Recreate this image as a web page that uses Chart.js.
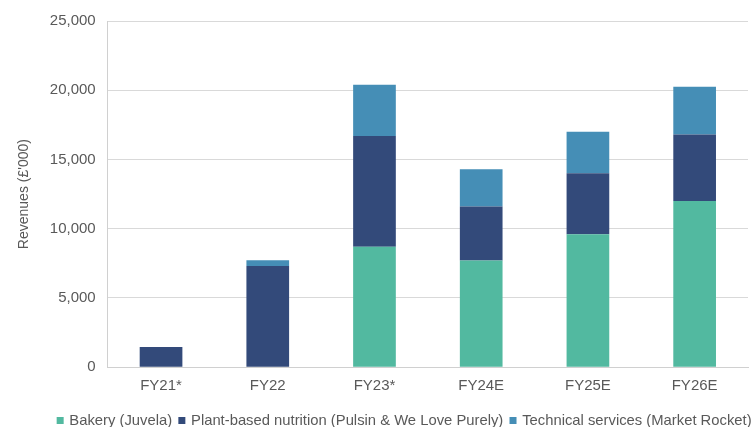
<!DOCTYPE html>
<html>
<head>
<meta charset="utf-8">
<script src="https://cdn.jsdelivr.net/npm/chart.js@4"></script>
<style>
  body { margin: 0; background: #fff; }
  #wrap { width: 755px; height: 427px; }
</style>
</head>
<body>
<div id="wrap"><canvas id="revchart"></canvas></div>
<script>
const years = ["FY21*", "FY22", "FY23*", "FY24E", "FY25E", "FY26E"];
const bakery = [0, 0, 8700, 7700, 9600, 12000];
const plantBased = [1450, 7300, 8000, 3900, 4400, 4800];
const techServices = [0, 430, 3700, 2700, 3000, 3450];
const yTicks = [0, 5000, 10000, 15000, 20000, 25000];

Chart.defaults.font.family = "'Liberation Sans', Arial, sans-serif";
Chart.defaults.color = "#595959";

// the legend in the original sits a little right of centre
const legendShift = {
    id: "legendShift",
    afterLayout(chart) {
        chart.legend.left += 23;
        chart.legend.right += 23;
    },
};

let ctx = document.getElementById("revchart").getContext("2d");
var revChart = new Chart(ctx, {
    type: "bar",
    data: {
        labels: years,
        datasets: [
            {
                label: "Bakery (Juvela)",
                data: bakery,
                backgroundColor: "#52b9a0",
            },
            {
                label: "Plant-based nutrition (Pulsin & We Love Purely)",
                data: plantBased,
                backgroundColor: "#334a7a",
            },
            {
                label: "Technical services (Market Rocket)",
                data: techServices,
                backgroundColor: "#458eb6",
            },
        ],
    },
    options: {
        responsive: true,
        maintainAspectRatio: false,
        animation: false,
        layout: { padding: { top: 11, right: 7, left: 16, bottom: -11 } },
        datasets: { bar: { barPercentage: 0.4, categoryPercentage: 1 } },
        scales: {
            x: {
                stacked: true,
                grid: { display: false, drawTicks: false },
                border: { color: "#d0d0d0", width: 1 },
                ticks: { font: { size: 15 }, padding: 10 },
            },
            y: {
                stacked: true,
                min: 0,
                max: 25000,
                afterBuildTicks: axis => { axis.ticks = yTicks.map(v => ({ value: v })); },
                grid: { color: "#d9d9d9", drawTicks: false },
                border: { color: "#d0d0d0", width: 1 },
                ticks: {
                    font: { size: 15 },
                    padding: 12,
                    callback: v => v.toLocaleString("en-GB"),
                },
                title: {
                    display: true,
                    text: "Revenues (£'000)",
                    font: { size: 14 },
                    padding: { top: 0, bottom: 5 },
                },
            },
        },
        plugins: {
            legend: {
                position: "bottom",
                labels: {
                    usePointStyle: true,
                    pointStyle: "rect",
                    boxWidth: 3.5,
                    boxHeight: 7,
                    padding: 8,
                    font: { size: 14.8 },
                    color: "#595959",
                },
            },
            tooltip: { enabled: false },
        },
    },
    plugins: [legendShift],
});
</script>
</body>
</html>
